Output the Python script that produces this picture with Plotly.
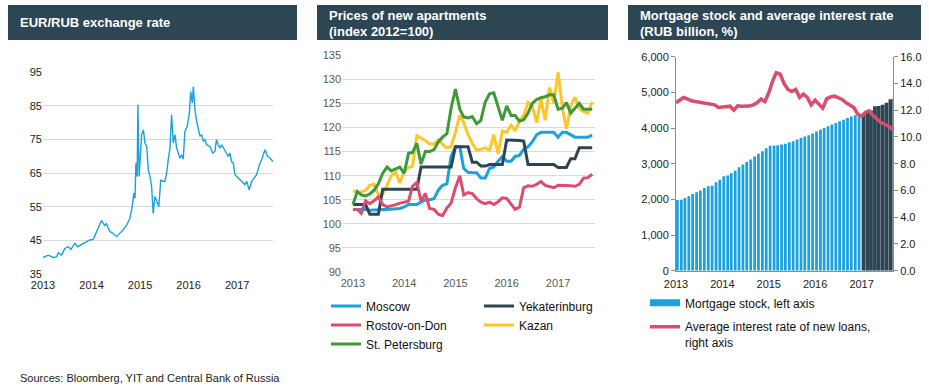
import plotly.graph_objects as go
import pandas as pd

# ---------------- data ----------------
eur_dates = [
    "2013-01-01", "2013-02-10", "2013-03-18", "2013-04-13", "2013-04-26", "2013-05-20", "2013-06-14",
    "2013-07-10", "2013-07-30", "2013-08-29", "2013-09-18", "2013-10-18", "2013-11-24", "2013-12-19",
    "2014-01-14", "2014-02-08", "2014-03-06", "2014-03-17", "2014-04-11", "2014-04-23", "2014-05-18",
    "2014-06-12", "2014-07-08", "2014-08-02", "2014-08-27", "2014-09-23", "2014-10-16", "2014-11-03",
    "2014-11-16", "2014-11-24", "2014-12-01", "2014-12-10", "2014-12-16", "2014-12-25", "2015-01-03",
    "2015-01-13", "2015-01-26", "2015-02-07", "2015-02-20", "2015-03-04", "2015-03-17", "2015-03-29",
    "2015-04-10", "2015-04-22", "2015-05-04", "2015-05-22", "2015-06-06", "2015-06-23", "2015-07-07",
    "2015-07-20", "2015-08-01", "2015-08-14", "2015-08-26", "2015-09-08", "2015-09-21", "2015-10-03",
    "2015-10-28", "2015-11-09", "2015-11-22", "2015-12-04", "2015-12-21", "2016-01-07", "2016-01-17",
    "2016-01-29", "2016-02-06", "2016-02-18", "2016-03-02", "2016-03-14", "2016-03-27", "2016-04-08",
    "2016-04-21", "2016-05-03", "2016-05-16", "2016-06-10", "2016-06-30", "2016-07-17", "2016-07-29",
    "2016-08-11", "2016-08-24", "2016-09-06", "2016-10-01", "2016-10-26", "2016-11-07", "2016-11-20",
    "2016-12-02", "2016-12-15", "2017-01-09", "2017-02-03", "2017-02-28", "2017-03-13", "2017-04-01",
    "2017-04-19", "2017-05-07", "2017-05-27", "2017-06-16", "2017-07-04", "2017-07-29", "2017-08-16",
    "2017-09-06", "2017-09-26",
]
eur_values = [
    39.9, 40.6, 39.9, 40.1, 41.3, 40.6, 42.6,
    43.1, 42.3, 44.1, 43.1, 43.8, 44.6, 45.1,
    45.3, 47.6, 50.1, 50.9, 49.4, 49.9, 47.6,
    47.1, 46.1, 47.1, 48.1, 49.6, 51.5, 55.0,
    59.0, 57.5, 67.9, 64.0, 85.3, 64.0, 69.9,
    76.4, 77.8, 73.9, 72.9, 65.9, 64.0, 61.0,
    53.0, 58.0, 57.0, 55.0, 63.0, 62.5, 62.5,
    65.0, 69.0, 72.4, 82.3, 73.9, 76.4, 72.4,
    69.4, 70.4, 69.1, 77.3, 78.8, 82.8, 89.2,
    85.8, 90.7, 83.8, 80.3, 77.8, 75.9, 76.4,
    74.4, 74.9, 73.4, 72.9, 70.9, 71.4, 74.9,
    73.4, 72.4, 73.4, 71.4, 69.9, 70.9, 68.4,
    67.9, 64.5, 63.5, 62.5, 61.5, 62.5, 60.0,
    62.5, 63.5, 64.5, 67.4, 69.0, 71.9, 70.0,
    69.4, 68.4,
]

months = pd.date_range("2013-01-01", periods=57, freq="MS")

moscow = [103.0, 103.0, 102.9, 103.0, 102.8, 102.9, 103.0, 103.0, 103.0, 103.1, 103.2, 103.2,
          103.5, 104.0, 104.0, 104.0, 104.5, 105.0, 105.0, 105.2, 107.0, 108.0, 108.3, 114.0,
          116.0, 116.0, 111.5, 110.7, 110.6, 110.6, 109.5, 109.5, 111.5, 111.8, 113.0, 114.0,
          113.0, 113.0, 114.0, 114.2, 115.5, 116.0, 117.0, 118.5, 119.0, 119.0, 119.0, 119.0,
          118.0, 119.0, 119.0, 118.5, 118.0, 118.0, 118.0, 118.0, 118.4]
yekaterinburg = [104.0, 104.0, 104.0, 104.0, 102.0, 102.0, 102.0, 107.2, 107.2, 107.2, 107.2, 107.2,
                 107.2, 107.2, 107.2, 107.2, 111.8, 111.8, 111.8, 111.8, 111.8, 111.8, 111.8, 111.8,
                 116.0, 116.0, 116.0, 116.0, 112.8, 112.8, 112.0, 112.0, 112.3, 112.3, 112.3, 112.3,
                 117.4, 117.4, 117.3, 117.3, 117.2, 112.3, 112.3, 112.3, 112.3, 112.3, 112.3, 112.3,
                 111.7, 111.7, 111.7, 113.5, 113.5, 115.8, 115.8, 115.8, 115.8]
rostov = [103.0, 103.0, 102.2, 104.8, 104.2, 104.8, 105.6, 104.0, 103.5, 103.7, 104.0, 104.3,
          104.5, 104.7, 107.8, 108.6, 104.7, 106.3, 103.2, 103.0, 102.0, 101.7, 103.3, 104.3,
          107.5, 110.0, 106.0, 106.5, 106.3, 105.2, 104.5, 104.2, 104.5, 104.0, 104.6, 105.4,
          105.3, 104.0, 103.0, 103.5, 107.5, 107.9, 107.8, 108.2, 108.8, 108.0, 107.8, 107.5,
          108.0, 108.0, 108.0, 107.9, 107.8, 108.2, 109.5, 109.6, 110.3]
kazan = [106.9, 106.5, 106.6, 107.0, 108.0, 108.2, 106.0, 106.2, 108.0, 110.0, 110.7, 108.5,
         110.9, 111.7, 112.0, 118.3, 117.8, 117.3, 116.6, 116.6, 117.5, 116.5, 115.8, 116.0,
         119.0, 122.5, 121.0, 118.5, 116.7, 115.3, 115.5, 115.8, 115.3, 118.5, 114.5, 119.3,
         119.0, 120.5, 119.3, 121.3, 122.5, 125.2, 124.5, 121.0, 126.0, 121.5, 128.3, 125.0,
         131.5, 124.0, 119.7, 124.5, 126.3, 124.0, 123.3, 123.0, 125.3]
st_petersburg = [104.0, 106.7, 106.0, 105.8, 106.2, 107.0, 108.3, 110.5, 111.8, 111.0, 111.4, 111.8,
                 110.5, 114.7, 114.8, 116.7, 112.4, 115.0, 115.0, 115.4, 117.0, 118.0, 118.7, 124.0,
                 128.0, 123.8, 122.2, 122.0, 122.3, 120.8, 121.5, 125.3, 127.0, 127.2, 124.3, 121.5,
                 124.5, 122.5, 122.5, 121.3, 121.6, 123.0, 125.0, 125.8, 126.2, 126.4, 126.8, 126.8,
                 123.8, 124.0, 125.2, 123.0, 124.0, 125.0, 123.8, 123.8, 123.8]

mortgage_stock = [1980, 1990, 2040, 2090, 2150, 2200, 2250, 2320, 2370, 2380, 2480, 2550,
                  2650, 2670, 2730, 2800, 2900, 2980, 3050, 3120, 3200, 3280, 3350, 3430,
                  3500, 3510, 3520, 3540, 3560, 3600, 3630, 3680, 3720, 3760, 3800, 3850,
                  3900, 3950, 4000, 4050, 4100, 4140, 4190, 4230, 4280, 4320, 4360, 4400,
                  4410, 4420, 4490, 4610, 4620, 4650, 4710, 4810, 4830]
interest_rate = [12.56, 12.75, 12.95, 12.85, 12.7, 12.65, 12.6, 12.5, 12.45, 12.45, 12.4, 12.2,
                 12.25, 12.3, 12.3, 12.0, 12.33, 12.3, 12.3, 12.31, 12.4, 12.55, 12.83, 12.64,
                 13.3, 14.2, 14.8, 14.7, 14.0, 13.55, 13.4, 13.55, 12.95, 13.2, 12.95, 12.4,
                 12.75, 12.45, 12.15, 12.85, 13.0, 13.05, 12.95, 12.8, 12.55, 12.4, 12.2, 11.7,
                 11.55, 11.85, 11.95, 11.6, 11.35, 11.1, 10.95, 10.8, 10.55]

year_ticks = ["2013-01-01", "2014-01-01", "2015-01-01", "2016-01-01", "2017-01-01"]
year_labels = ["2013", "2014", "2015", "2016", "2017"]

# ---------------- style ----------------
W, H = 929, 386
FONT = "Liberation Sans, Arial, sans-serif"
TITLE_BG = "#2C4654"
BLUE = "#1BA1DC"
DARK = "#2C4654"
RED = "#DC4C6C"
YELLOW = "#FFC629"
GREEN = "#3E9A36"
GRID = "#D9D9D9"
AXLINE = "#8C8C8C"
MONTH_MS = 30.44 * 86400000


def fx(x):
    return x / W


def fy(y):
    return 1 - y / H


fig = go.Figure()

# Panel 1
fig.add_trace(go.Scatter(x=pd.to_datetime(eur_dates), y=eur_values, mode="lines",
                         line=dict(color=BLUE, width=1.4), xaxis="x", yaxis="y",
                         showlegend=False, hoverinfo="skip"))

# Panel 2
p2 = [("Moscow", moscow, BLUE, "legend"),
      ("Yekaterinburg", yekaterinburg, DARK, "legend2"),
      ("Rostov-on-Don", rostov, RED, "legend"),
      ("Kazan", kazan, YELLOW, "legend2"),
      ("St. Petersburg", st_petersburg, GREEN, "legend")]
draw_order = ["Kazan", "Moscow", "Yekaterinburg", "Rostov-on-Don", "St. Petersburg"]
legend_rank = {"Moscow": 1, "Rostov-on-Don": 2, "St. Petersburg": 3, "Yekaterinburg": 1, "Kazan": 2}
lookup = {n: (v, c, l) for n, v, c, l in p2}
for name in draw_order:
    vals, col, leg = lookup[name]
    fig.add_trace(go.Scatter(x=months, y=vals, mode="lines", name=name,
                             line=dict(color=col, width=3), xaxis="x2", yaxis="y2",
                             legend=leg, legendrank=legend_rank[name], hoverinfo="skip"))

# Panel 3
fig.add_trace(go.Bar(x=months[:48], y=mortgage_stock[:48], width=0.72 * MONTH_MS, offset=0,
                     marker=dict(color=BLUE, line=dict(width=0)), xaxis="x3", yaxis="y3",
                     showlegend=False, hoverinfo="skip"))
fig.add_trace(go.Bar(x=months[48:], y=mortgage_stock[48:], width=0.97 * MONTH_MS, offset=0,
                     marker=dict(color=DARK, line=dict(width=0)), xaxis="x3", yaxis="y3",
                     showlegend=False, hoverinfo="skip"))
fig.add_trace(go.Scatter(x=months, y=interest_rate, mode="lines",
                         line=dict(color=RED, width=3.5), xaxis="x3", yaxis="y4",
                         showlegend=False, hoverinfo="skip"))
# legend entries for panel 3
fig.add_trace(go.Scatter(x=[None], y=[None], mode="lines", name="Mortgage stock, left axis",
                         line=dict(color=BLUE, width=7), xaxis="x3", yaxis="y3",
                         legend="legend3", legendgroup="a", hoverinfo="skip"))
fig.add_trace(go.Scatter(x=[None], y=[None], mode="lines",
                         name="Average interest rate of new loans,<br>right axis",
                         line=dict(color=RED, width=3.5), xaxis="x3", yaxis="y4",
                         legend="legend3", legendgroup="b", hoverinfo="skip"))

tick_common = dict(tickvals=year_ticks, ticktext=year_labels, type="date",
                   showgrid=False, zeroline=False, ticks="", fixedrange=True,
                   ticklabelstandoff=3)

fig.update_layout(
    width=W, height=H, margin=dict(l=0, r=0, t=0, b=0, pad=0, autoexpand=False),
    paper_bgcolor="white", plot_bgcolor="rgba(0,0,0,0)",
    font=dict(family=FONT, size=11, color="#222222"),
    barmode="overlay",
    xaxis=dict(domain=[fx(43), fx(273)], anchor="y", range=["2013-01-01", "2017-09-27"],
               tickfont=dict(size=11, color="#222222"), **tick_common),
    yaxis=dict(domain=[fy(274), fy(72)], anchor="x", range=[35, 95], tick0=35, dtick=10,
               gridcolor=GRID, gridwidth=1, zeroline=False, showline=False,
               tickfont=dict(size=11, color="#222222")),
    xaxis2=dict(domain=[fx(342), fx(595)], anchor="y2", range=["2012-10-15", "2017-09-21"],
                tickfont=dict(size=11, color="#595959"), **tick_common),
    yaxis2=dict(domain=[fy(272), fy(55.3)], anchor="x2", range=[90, 135], dtick=5,
                gridcolor=GRID, gridwidth=1, zeroline=False, showline=False,
                tickfont=dict(size=11, color="#595959")),
    xaxis3=dict(domain=[fx(676), fx(893)], anchor="y3", range=["2013-01-01", "2017-09-05"],
                showline=True, linecolor=AXLINE, linewidth=1,
                tickfont=dict(size=11, color="#222222"), **tick_common),
    yaxis3=dict(domain=[fy(270.7), fy(56.7)], anchor="x3", range=[0, 6000], dtick=1000,
                tickformat=",", showgrid=False, zeroline=False, showline=True,
                linecolor=AXLINE, ticks="outside", ticklen=4, tickcolor=AXLINE,
                tickfont=dict(size=11, color="#222222")),
    yaxis4=dict(domain=[fy(270.7), fy(56.7)], anchor="x3", overlaying="y3", side="right",
                range=[0, 16], dtick=2, tickformat=".1f", showgrid=False, zeroline=False,
                showline=True, linecolor=AXLINE, ticks="outside", ticklen=4, tickcolor=AXLINE,
                tickfont=dict(size=11, color="#222222")),
    legend=dict(x=fx(326), y=fy(291.5), xanchor="left", yanchor="top", orientation="v",
                font=dict(size=12, color="#111111"), bgcolor="rgba(0,0,0,0)",
                traceorder="normal", tracegroupgap=0, itemwidth=30),
    legend2=dict(x=fx(479), y=fy(291.5), xanchor="left", yanchor="top", orientation="v",
                 font=dict(size=12, color="#111111"), bgcolor="rgba(0,0,0,0)",
                 traceorder="normal", tracegroupgap=0, itemwidth=30),
    legend3=dict(x=fx(645), y=fy(288.5), xanchor="left", yanchor="top", orientation="v",
                 font=dict(size=12, color="#111111"), bgcolor="rgba(0,0,0,0)",
                 traceorder="grouped", tracegroupgap=5, valign="top", itemwidth=30),
)

# Title bars
bars = [(8, 297, ["EUR/RUB exchange rate"]),
        (317, 608, ["Prices of new apartments", "(index 2012=100)"]),
        (628, 921, ["Mortgage stock and average interest rate", "(RUB billion, %)"])]
for x0, x1, lines in bars:
    fig.add_shape(type="rect", xref="paper", yref="paper", x0=fx(x0), x1=fx(x1),
                  y0=fy(40), y1=fy(5), fillcolor=TITLE_BG, line=dict(width=0), layer="below")
    if len(lines) == 1:
        ys = [23]
    else:
        ys = [15, 32]
    for txt, yy in zip(lines, ys):
        fig.add_annotation(x=fx(x0 + 10), y=fy(yy), xref="paper", yref="paper", text=txt,
                           showarrow=False, xanchor="left", yanchor="middle",
                           font=dict(family=FONT, size=13, color="white", weight="bold"))

fig.add_annotation(x=fx(18), y=fy(378), xref="paper", yref="paper",
                   text="Sources: Bloomberg, YIT and Central Bank of Russia", showarrow=False,
                   xanchor="left", yanchor="middle", font=dict(family=FONT, size=11, color="#222222"))

fig.write_html("out.html", config={"displayModeBar": False},
               post_script="document.body.style.margin='0px';document.body.style.padding='0px';")
